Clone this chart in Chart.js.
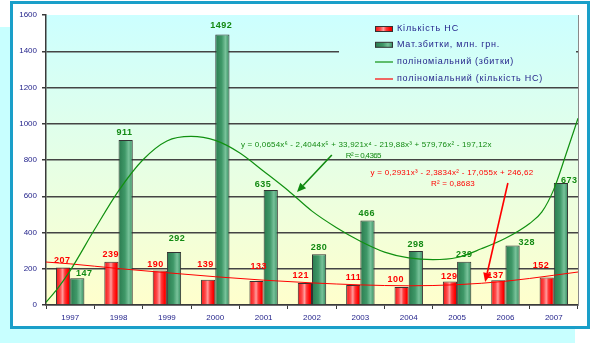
<!DOCTYPE html>
<html>
<head>
<meta charset="utf-8">
<script src="https://cdn.jsdelivr.net/npm/chart.js@4.4.0/dist/chart.umd.min.js"></script>
<style>
html, body { margin: 0; padding: 0; background: #fff; }
body { width: 592px; height: 343px; position: relative; overflow: hidden; }
.shade { position: absolute; left: 0; top: 27px; width: 575px; height: 316px; background: #c8ffff; }
.frame { position: absolute; left: 10px; top: 1px; width: 580px; height: 328px; border: 3px solid #1a9fc9; box-sizing: border-box; background: #fff; }
.layer { position: absolute; left: 0; top: 0; width: 592px; height: 343px; }
</style>
</head>
<body>
<div class="shade"></div>
<div class="frame"></div>
<div class="layer"><canvas id="myChart"></canvas></div>
<div class="layer"><canvas id="trendChart"></canvas></div>
<script>
// роки (вісь X)
const years = ['1997', '1998', '1999', '2000', '2001', '2002', '2003', '2004', '2005', '2006', '2007'];
// кількість НС
const accidents = [207, 239, 190, 139, 133, 121, 111, 100, 129, 137, 152];
// мат. збитки, млн. грн.
const losses = [147, 911, 292, 1492, 635, 280, 466, 298, 239, 328, 673];
// вісь Y
const yMax = 1600;
const yStep = 200;

// поліноміальний тренд (збитки) - точки кривої, x = номер року (1 = 1997)
const lossTrendX = [0.5, 0.75, 1, 1.5, 2, 2.5, 3, 3.5, 4, 4.5, 5, 5.5, 6, 6.5, 7, 7.5, 8, 8.5, 9, 9.5, 10, 10.5, 10.75, 11, 11.25, 11.5];
const lossTrendY = [15, 95, 190, 415, 630, 800, 905, 930, 908, 840, 738, 633, 518, 428, 352, 292, 260, 250, 262, 310, 368, 450, 512, 638, 830, 1030];
// поліноміальний тренд (кількість НС)
const accTrendX = [0.5, 1, 2, 3, 4, 5, 6, 7, 8, 9, 10, 11, 11.5];
const accTrendY = [237, 227, 201, 178, 156, 137, 122, 111, 106, 112, 131, 164, 182];

// зсув підписів значень (px): dx, висота над стовпцем
const accLabelDx = [-1, -1, -4.5, -3, 2, -4.5, 0, -6, -1, -3, -6];
const accLabelUp = [7.5, 7.7, 6.6, 15.5, 15, 8, 8, 8, 6, 5.2, 12];
const lossLabelDx = [6.7, -1.5, 2.8, -1.3, -8, -0.4, -1, -0.4, -0.3, 14, 8];
const lossLabelUp = [5, 8.2, 13.8, 10, 6, 7.6, 7.8, 7, 7.7, 3.2, 3];

const catPct = 0.588;
const FONT = 'Arial, "Liberation Sans", sans-serif';
const RED = '#ff0000';
const GREEN = '#138a13';
const BLUE_TXT = '#25258c';
// спільні відступи обох полотен -> однакова область графіка
const PAD = { left: 46, top: 15, right: 14, bottom: 38 };

function redFill(c, x0, x1) {
	const g = c.createLinearGradient(x0, 0, x1, 0);
	g.addColorStop(0, '#f01010');
	g.addColorStop(0.3, '#ff4a4a');
	g.addColorStop(0.47, '#ff9c9c');
	g.addColorStop(0.62, '#ff3a3a');
	g.addColorStop(0.85, '#ff0000');
	g.addColorStop(1, '#d80000');
	return g;
}
function greenFill(c, x0, x1) {
	const g = c.createLinearGradient(x0, 0, x1, 0);
	g.addColorStop(0, '#2a7b4f');
	g.addColorStop(0.45, '#3f9868');
	g.addColorStop(0.72, '#78c29a');
	g.addColorStop(0.9, '#4a9f73');
	g.addColorStop(1, '#2a7b4f');
	return g;
}

// градієнт для кожного стовпця окремо (по його ширині)
function barFill(kind) {
	return (ctx) => {
		const solid = kind === 'red' ? RED : '#2e8b57';
		const chart = ctx.chart;
		const xs = chart.scales.x;
		if (!xs || ctx.dataIndex === undefined) return solid;
		const c = xs.getPixelForValue(ctx.dataIndex);
		const w = xs.width / years.length * catPct / 2;
		if (!isFinite(c) || !isFinite(w) || w <= 0) return solid;
		const x0 = kind === 'red' ? c - w : c;
		return kind === 'red' ? redFill(chart.ctx, x0, x0 + w) : greenFill(chart.ctx, x0, x0 + w);
	};
}

function fitText(c, str, left, cy, width) {
	c.letterSpacing = '0px';
	const n = Array.from(str).length;
	const natural = c.measureText(str).width;
	c.letterSpacing = ((width - natural) / n).toFixed(2) + 'px';
	c.textAlign = 'left';
	c.textBaseline = 'middle';
	c.fillText(str, left, cy);
	c.letterSpacing = '0px';
}

function arrow(c, x1, y1, x2, y2, color) {
	const a = Math.atan2(y2 - y1, x2 - x1);
	const len = 9, hw = 4;
	const bx = x2 - Math.cos(a) * len, by = y2 - Math.sin(a) * len;
	c.strokeStyle = color; c.fillStyle = color; c.lineWidth = 1.6;
	c.beginPath(); c.moveTo(x1, y1); c.lineTo(bx, by); c.stroke();
	c.beginPath();
	c.moveTo(x2, y2);
	c.lineTo(bx - Math.sin(a) * hw, by + Math.cos(a) * hw);
	c.lineTo(bx + Math.sin(a) * hw, by - Math.cos(a) * hw);
	c.closePath(); c.fill();
}

// рівняння трендів (позиції в одиницях осей)
const notes = [
	{ text: 'y = 0,0654x⁶ - 2,4044x⁵ + 33,921x⁴ - 219,88x³ + 579,76x² - 197,12x', x: 4.53, y: 883, w: 251, color: GREEN },
	{ text: 'R² = 0,4365', x: 6.70, y: 822, w: 35, color: GREEN },
	{ text: 'y = 0,2931x³ - 2,3834x² - 17,055x + 246,62', x: 7.21, y: 727, w: 163, color: RED },
	{ text: 'R² = 0,8683', x: 8.46, y: 671, w: 44, color: RED }
];
const arrows = [
	{ from: [6.41, 828], to: [5.69, 623], color: '#108a10' },
	{ from: [10.05, 673], to: [9.58, 127], color: RED }
];

const legendItems = [
	{ kind: 'bar', fill: 'red', text: 'Кількість НС', y: 29, w: 62 },
	{ kind: 'bar', fill: 'green', text: 'Мат.збитки, млн. грн.', y: 44.8, w: 103 },
	{ kind: 'line', color: '#109010', text: 'поліноміальний (збитки)', y: 62, w: 117 },
	{ kind: 'line', color: RED, text: 'поліноміальний (кількість НС)', y: 79, w: 146 }
];

// фон, легенда, підписи значень
const barDeco = {
	id: 'barDeco',
	beforeDraw(chart) {
		const { ctx, chartArea: a } = chart;
		const g = ctx.createLinearGradient(0, a.top, 0, a.bottom);
		g.addColorStop(0, '#ccffff');
		g.addColorStop(1, '#ffffcc');
		chart.$bg = g;
		ctx.save();
		ctx.fillStyle = g;
		ctx.fillRect(a.left, a.top, a.right - a.left, a.bottom - a.top);
		ctx.restore();
	},
	beforeDatasetsDraw(chart) {
		const { ctx, chartArea: a } = chart;
		ctx.save();
		// фон легенди закриває сітку
		ctx.fillStyle = chart.$bg;
		ctx.fillRect(339, a.top, a.right - 2 - 339, 86 - a.top);
		ctx.strokeStyle = '#8a8a8a';
		ctx.lineWidth = 1;
		ctx.beginPath();
		ctx.moveTo(a.right + 0.5, a.top);
		ctx.lineTo(a.right + 0.5, a.bottom);
		ctx.stroke();
		ctx.restore();
	},
	afterDatasetsDraw(chart) {
		const ctx = chart.ctx;
		ctx.save();
		ctx.font = 'bold 9px ' + FONT;
		ctx.textAlign = 'center';
		ctx.textBaseline = 'middle';
		ctx.letterSpacing = '0.5px';
		chart.getDatasetMeta(0).data.forEach((el, i) => {
			ctx.fillStyle = RED;
			ctx.fillText(String(accidents[i]), el.x + accLabelDx[i] + 0.25, el.y - accLabelUp[i] + 0.5);
		});
		chart.getDatasetMeta(1).data.forEach((el, i) => {
			ctx.fillStyle = GREEN;
			ctx.fillText(String(losses[i]), el.x + lossLabelDx[i] + 0.25, el.y - lossLabelUp[i] + 0.5);
		});
		ctx.restore();
	},
	afterDraw(chart) {
		const ctx = chart.ctx;
		ctx.save();
		ctx.font = '9px ' + FONT;
		legendItems.forEach(it => {
			if (it.kind === 'bar') {
				ctx.fillStyle = it.fill === 'red' ? redFill(ctx, 375, 393) : greenFill(ctx, 375, 393);
				ctx.fillRect(375, it.y - 2.5, 18, 5);
				ctx.strokeStyle = '#333';
				ctx.lineWidth = 1;
				ctx.strokeRect(375.5, it.y - 2.5, 17, 5);
			} else {
				ctx.strokeStyle = it.color;
				ctx.lineWidth = 1.2;
				ctx.beginPath();
				ctx.moveTo(375, it.y);
				ctx.lineTo(393, it.y);
				ctx.stroke();
			}
			ctx.fillStyle = BLUE_TXT;
			fitText(ctx, it.text, 397, it.y, it.w);
		});
		ctx.restore();
	}
};

// рівняння та стрілки поверх трендів
const trendDeco = {
	id: 'trendDeco',
	afterDraw(chart) {
		const ctx = chart.ctx;
		const xs = chart.scales.x, ys = chart.scales.y;
		ctx.save();
		ctx.font = '8px ' + FONT;
		notes.forEach(n => {
			ctx.fillStyle = n.color;
			fitText(ctx, n.text, xs.getPixelForValue(n.x), ys.getPixelForValue(n.y), n.w);
		});
		arrows.forEach(r => {
			arrow(ctx, xs.getPixelForValue(r.from[0]), ys.getPixelForValue(r.from[1]),
				xs.getPixelForValue(r.to[0]), ys.getPixelForValue(r.to[1]), r.color);
		});
		ctx.restore();
	}
};

// ---------------- стовпці + осі -----------------
new Chart(document.getElementById('myChart'), {
	type: 'bar',
	data: {
		labels: years,
		datasets: [
			{
				label: 'Кількість НС',
				data: accidents,
				backgroundColor: barFill('red'),
				borderColor: '#333',
				borderWidth: 1,
				categoryPercentage: catPct,
				barPercentage: 1
			},
			{
				label: 'Мат.збитки, млн. грн.',
				data: losses,
				backgroundColor: barFill('green'),
				borderColor: '#333',
				borderWidth: 1,
				categoryPercentage: catPct,
				barPercentage: 1
			}
		]
	},
	options: {
		responsive: true,
		maintainAspectRatio: false,
		animation: false,
		events: [],
		layout: { padding: { left: 0, top: PAD.top, right: PAD.right, bottom: 0 } },
		plugins: {
			legend: { display: false },
			tooltip: { enabled: false }
		},
		scales: {
			x: {
				offset: true,
				afterFit: (s) => { s.height = PAD.bottom; },
				grid: { offset: true, drawOnChartArea: false, drawTicks: true, tickLength: 4, color: '#3a3a3a', tickColor: '#3a3a3a' },
				border: { color: '#3a3a3a', width: 1.5 },
				ticks: { color: BLUE_TXT, font: { family: FONT, size: 8 }, padding: 4, maxRotation: 0 }
			},
			y: {
				min: 0,
				max: yMax,
				afterFit: (s) => { s.width = PAD.left; },
				grid: {
					color: (c) => c.tick && c.tick.value === yMax ? 'rgba(0,0,0,0)' : '#444',
					lineWidth: 1.5,
					tickLength: 4,
					tickColor: '#3a3a3a'
				},
				border: { color: '#3a3a3a', width: 1.5 },
				ticks: { stepSize: yStep, color: BLUE_TXT, font: { family: FONT, size: 8 }, padding: 5, callback: (v) => String(v) }
			}
		}
	},
	plugins: [barDeco]
});

// ---------------- поліноміальні тренди (прозоре полотно зверху) -----------------
// x: 0.5 .. 11.5 = ліва .. права межа області графіка
new Chart(document.getElementById('trendChart'), {
	type: 'line',
	data: {
		datasets: [
			{
				label: 'поліноміальний (збитки)',
				data: lossTrendX.map((x, i) => ({ x: x, y: lossTrendY[i] })),
				borderColor: '#109010',
				borderWidth: 1.2,
				pointRadius: 0,
				cubicInterpolationMode: 'monotone'
			},
			{
				label: 'поліноміальний (кількість НС)',
				data: accTrendX.map((x, i) => ({ x: x, y: accTrendY[i] })),
				borderColor: RED,
				borderWidth: 1,
				pointRadius: 0,
				cubicInterpolationMode: 'monotone'
			}
		]
	},
	options: {
		responsive: true,
		maintainAspectRatio: false,
		animation: false,
		events: [],
		layout: { padding: PAD },
		plugins: {
			legend: { display: false },
			tooltip: { enabled: false }
		},
		scales: {
			x: { type: 'linear', display: false, min: 0.5, max: 11.5 },
			y: { display: false, min: 0, max: yMax }
		}
	},
	plugins: [trendDeco]
});
</script>
</body>
</html>
